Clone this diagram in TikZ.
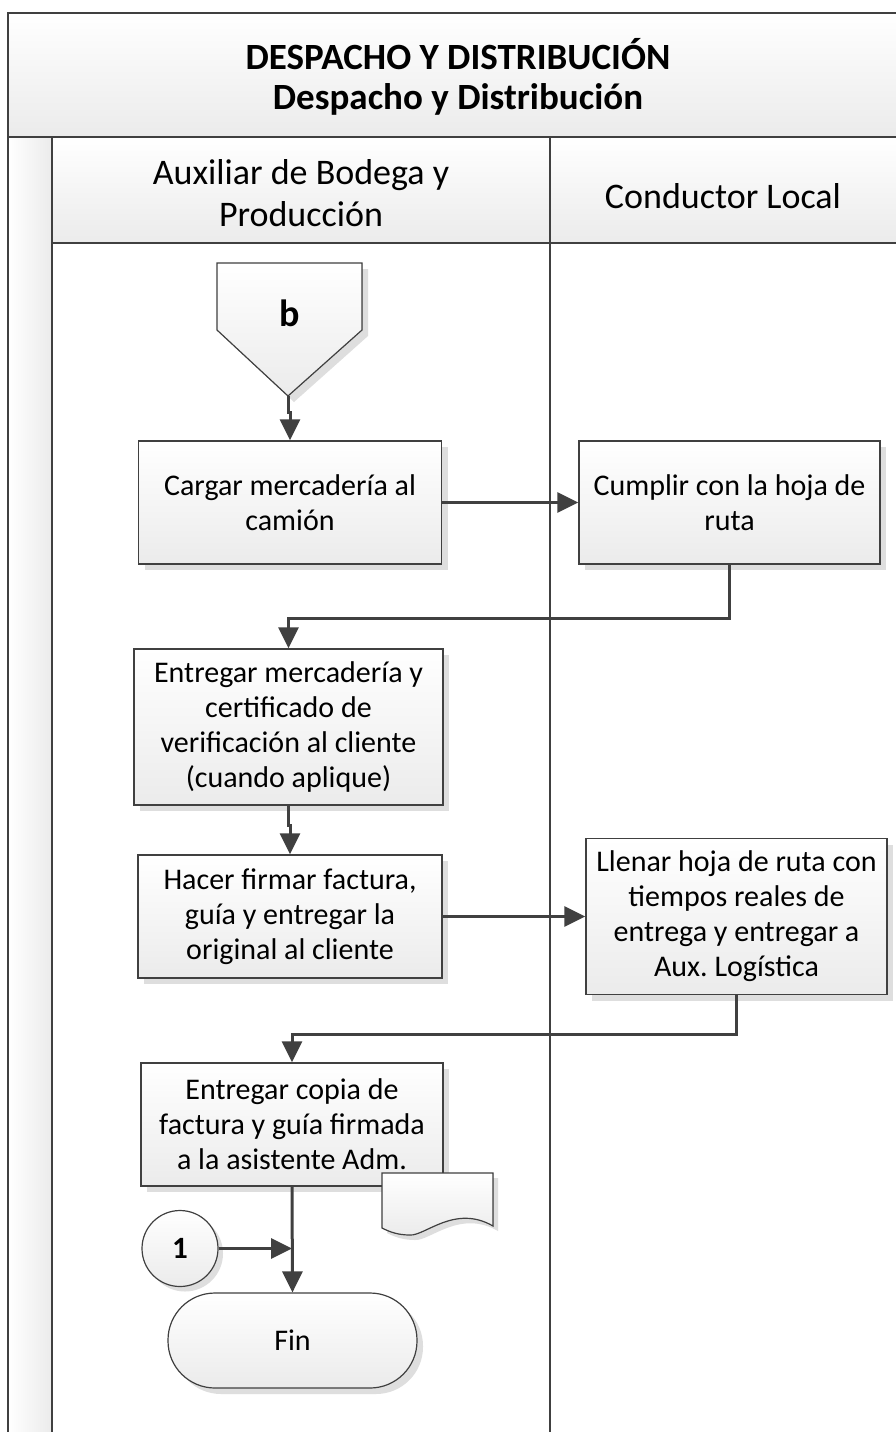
\documentclass[tikz,border=0pt]{standalone}
\usepackage{fontspec}
\setmainfont{Carlito}
\usetikzlibrary{shapes.geometric,arrows.meta,shadows,calc}
\definecolor{linec}{HTML}{404040}
\definecolor{fillb}{HTML}{EBEBEB}
\definecolor{shad}{HTML}{DEDEDE}
\frenchspacing
\begin{document}
\begin{tikzpicture}[x=1pt,y=-1pt,
  poolline/.style={draw=linec,line width=2.6pt},
  procbox/.style={draw=linec,line width=1.4pt,top color=white,bottom color=fillb,
    minimum width=#1,align=center,inner sep=0pt,
    font=\fontsize{30}{35}\selectfont,
    drop shadow={shadow xshift=6pt,shadow yshift=-6pt,fill=shad,opacity=1}},
  conn/.style={draw=linec,line width=3pt,-{Triangle[length=21pt,width=20pt]}}]
\useasboundingbox (0,0) rectangle (896,1432);
\fill[white] (0,0) rectangle (896,1432);
% pool background
\shade[top color=white,bottom color=fillb] (8,13) rectangle (896,137);
\shade[left color=white,right color=fillb] (8,137) rectangle (52,1432);
\shade[top color=white,bottom color=fillb] (52,137) rectangle (896,243);
\draw[poolline] (8,1432) -- (8,13) -- (896,13);
\draw[poolline] (8,137) -- (896,137);
\draw[poolline] (52,137) -- (52,1432);
\draw[poolline] (550,137) -- (550,1432);
\draw[poolline] (52,243) -- (896,243);
% titles
\node[align=center,font=\bfseries\fontsize{37}{40}\selectfont] (title) at (458,77)
  {DESPACHO Y DISTRIBUCIÓN\\Despacho y Distribución};
\node[align=center,font=\fontsize{36}{42}\selectfont] (lane1) at (301,193)
  {Auxiliar de Bodega y\\Producción};
\node[align=center,font=\fontsize{36}{42}\selectfont] (lane2) at (723,196)
  {Conductor Local};
% off-page connector b
\filldraw[draw=linec,line width=1.2pt,top color=white,bottom color=fillb,
  drop shadow={shadow xshift=6pt,shadow yshift=-6pt,fill=shad,opacity=1}]
  (217,263) -- (362,263) -- (362,330) -- (288,396) -- (217,330) -- cycle;
\coordinate (btip) at (288,396);
\node[font=\bfseries\fontsize{38}{42}\selectfont] (b) at (290,313) {b};
% process boxes
\node[procbox=303pt,minimum height=123pt] (box1) at (290,502.5)
  {Cargar mercadería al\\camión};
\node[procbox=301pt,minimum height=123pt] (box2) at (729.5,502.5)
  {Cumplir con la hoja de\\ruta};
\node[procbox=309pt,minimum height=156pt] (box3) at (288.5,727)
  {Entregar mercadería y\\certificado de\\verificación al cliente\\(cuando aplique)};
\node[procbox=304pt,minimum height=123pt] (box4) at (290,916.5)
  {Hacer firmar factura,\\guía y entregar la\\original al cliente};
\node[procbox=301pt,minimum height=156pt] (box5) at (736.5,916.5)
  {Llenar hoja de ruta con\\tiempos reales de\\entrega y entregar a\\Aux. Logística};
\node[procbox=302pt,minimum height=123pt] (box6) at (292,1124.5)
  {Entregar copia de\\factura y guía firmada\\a la asistente Adm.};
% document symbol
\filldraw[draw=linec,line width=1.2pt,top color=white,bottom color=fillb,
  drop shadow={shadow xshift=5pt,shadow yshift=-5pt,fill=shad,opacity=1}]
  (382,1173) -- (493,1173) -- (493,1226)
  .. controls (455,1204) and (425,1236) .. (410,1235)
  .. controls (398,1235) and (390,1232) .. (382,1228) -- cycle;
% connector 1
\node[circle,draw=linec,line width=1.2pt,top color=white,bottom color=fillb,
  minimum size=76pt,inner sep=0pt,font=\bfseries\fontsize{31}{34}\selectfont,
  drop shadow={shadow xshift=5pt,shadow yshift=-5pt,fill=shad,opacity=1}] (c1) at (180,1248.5) {1};
% terminator
\node[draw=linec,line width=1.2pt,top color=white,bottom color=fillb,
  minimum width=249pt,minimum height=95pt,rounded corners=47pt,
  font=\fontsize{30}{34}\selectfont,
  drop shadow={shadow xshift=6pt,shadow yshift=-6pt,fill=shad,opacity=1}] (fin) at (292.5,1340.5) {Fin};
% connectors
\draw[conn] (btip) -- ++(0,16) -| (box1.north);
\draw[conn] (box1.east) -- (box2.west);
\draw[conn] (box2.south) -- ++(0,54) -| (box3.north);
\draw[conn] (box3.south) -- ++(0,20) -| (box4.north);
\draw[conn] (box4.east) -- (box5.west);
\draw[conn] (box5.south) -- ++(0,39) -| (box6.north);
\draw[conn] (box6.south) -- (fin.north);
\draw[conn] (c1.east) -- (c1.east -| box6.south);
\end{tikzpicture}
\end{document}
